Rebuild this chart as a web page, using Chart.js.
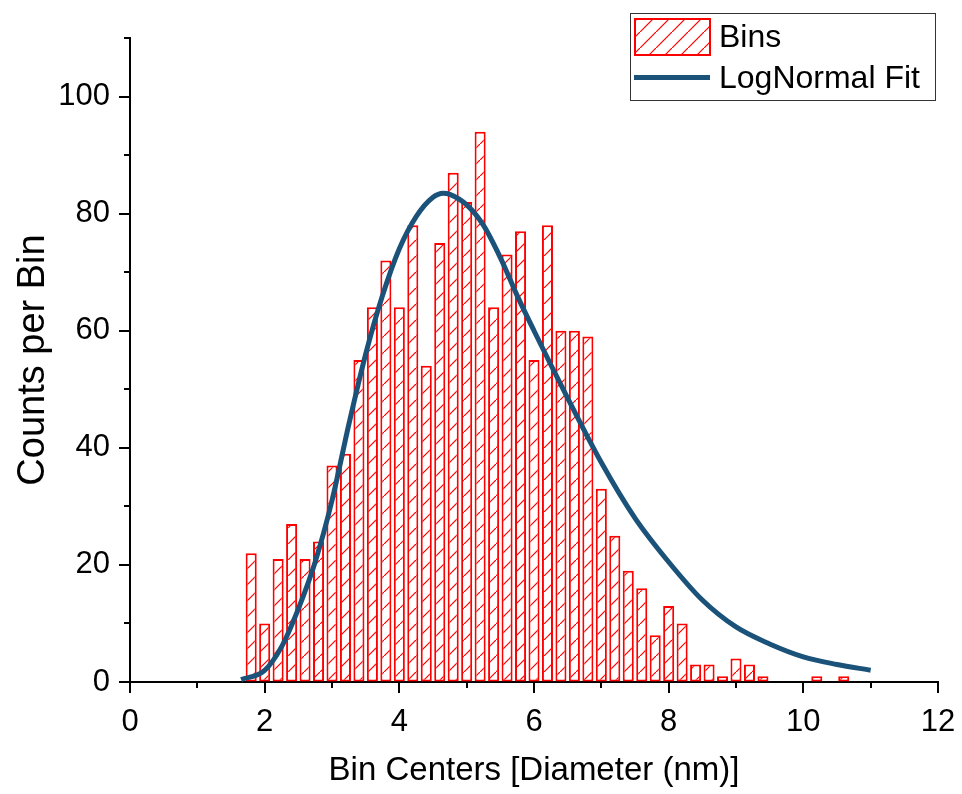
<!DOCTYPE html>
<html>
<head>
<meta charset="utf-8">
<script src="https://cdn.jsdelivr.net/npm/chart.js@4.4.1/dist/chart.umd.min.js"></script>
<style>
  body { margin: 0; background: #fff; }
  #wrap { width: 962px; height: 794px; }
</style>
</head>
<body>
<div id="wrap"><canvas id="sizeChart" width="962" height="794"></canvas></div>
<script>
// histogram bins (centres, nm) and counts
var binCenters = [1.8, 2.0, 2.2, 2.4, 2.6, 2.8, 3.0, 3.2, 3.4, 3.6, 3.8, 4.0, 4.2, 4.4, 4.6,
                  4.8, 5.0, 5.2, 5.4, 5.6, 5.8, 6.0, 6.2, 6.4, 6.6, 6.8, 7.0, 7.2, 7.4, 7.6,
                  7.8, 8.0, 8.2, 8.4, 8.6, 8.8, 9.0, 9.2, 9.4, 9.6, 9.8, 10.0, 10.2, 10.4, 10.6];
var binCounts  = [22, 10, 21, 27, 21, 24, 37, 39, 55, 64, 72, 64, 78, 54, 75,
                  87, 82, 94, 64, 73, 77, 55, 78, 60, 60, 59, 33, 25, 19, 16,
                  8, 13, 10, 3, 3, 1, 4, 3, 1, 0, 0, 0, 1, 0, 1];

// lognormal fit curve
var fitX = [1.65, 2.0, 2.25, 2.5, 2.75, 3.0, 3.25, 3.5, 3.75, 4.0, 4.25, 4.5, 4.65, 4.75, 5.0,
            5.25, 5.5, 5.75, 6.0, 6.5, 7.0, 7.5, 8.0, 8.5, 9.0, 9.5, 10.0, 10.5, 11.0];
var fitY = [0.4, 2, 6, 12.5, 20.5, 31, 44, 56, 66, 74, 79.5, 82.8, 83.5, 83.3, 81.5,
            78, 72.5, 66, 60, 48.5, 37.5, 28, 20.5, 14, 9.4, 6.5, 4.3, 3, 2];

// axis ticks
var xMajor = [0, 2, 4, 6, 8, 10, 12];
var xMinor = [1, 3, 5, 7, 9, 11];
var yMajor = [0, 20, 40, 60, 80, 100];
var yMinor = [10, 30, 50, 70, 90, 110];

var RED = '#ff0000';
var BLUE = '#1b5279';
var FONT = "'Liberation Sans', Arial, sans-serif";

Chart.defaults.font.family = FONT;
Chart.defaults.color = '#000';

// diagonal hatch for the bins
function makeHatch() {
    var c = document.createElement('canvas');
    c.width = 16; c.height = 16;
    var g = c.getContext('2d');
    g.fillStyle = '#fff';
    g.fillRect(0, 0, 16, 16);
    g.strokeStyle = RED;
    g.lineWidth = 1.2;
    g.beginPath();
    g.moveTo(-2, 18); g.lineTo(18, -2);
    g.stroke();
    return g.createPattern(c, 'repeat');
}
var hatch = makeHatch();

// all tick marks drawn here (major 11px, minor 6px, pointing out)
var tickMarks = {
    id: 'tickMarks',
    afterDraw: function(chart) {
        var ctx = chart.ctx, xs = chart.scales.x, ys = chart.scales.y;
        ctx.save();
        ctx.strokeStyle = '#000';
        ctx.lineWidth = 2;
        ctx.beginPath();
        function xt(v, len) {
            var px = Math.round(xs.getPixelForValue(v));
            ctx.moveTo(px, ys.bottom);
            ctx.lineTo(px, ys.bottom + len);
        }
        function yt(v, len) {
            var py = Math.round(ys.getPixelForValue(v));
            ctx.moveTo(xs.left, py);
            ctx.lineTo(xs.left - len, py);
        }
        xMajor.forEach(function(v) { xt(v, 11); });
        xMinor.forEach(function(v) { xt(v, 6); });
        yMajor.forEach(function(v) { yt(v, 11); });
        yMinor.forEach(function(v) { yt(v, 6); });
        ctx.stroke();
        ctx.restore();
    }
};

var boxLegend = {
    id: 'boxLegend',
    afterDraw: function(chart) {
        var ctx = chart.ctx;
        ctx.save();
        ctx.fillStyle = '#fff';
        ctx.fillRect(630, 13, 305, 87);
        ctx.strokeStyle = '#333';
        ctx.lineWidth = 1;
        ctx.strokeRect(630.5, 13.5, 305, 87);
        ctx.fillStyle = hatch;
        ctx.fillRect(635, 19, 75, 36);
        ctx.strokeStyle = RED;
        ctx.lineWidth = 2;
        ctx.strokeRect(635, 19, 75, 36);
        ctx.strokeStyle = BLUE;
        ctx.lineWidth = 5;
        ctx.beginPath();
        ctx.moveTo(634, 77.5);
        ctx.lineTo(710, 77.5);
        ctx.stroke();
        ctx.fillStyle = '#000';
        ctx.font = '32px ' + FONT;
        ctx.textBaseline = 'middle';
        ctx.fillText('Bins', 719, 38);
        ctx.fillText('LogNormal Fit', 719, 79);
        ctx.restore();
    }
};

var axisGrid = {
    display: true,
    offset: false,
    drawOnChartArea: false,
    drawTicks: true,
    tickLength: 10,
    tickWidth: 0,
    tickColor: 'rgba(0,0,0,0)'
};

new Chart(document.getElementById('sizeChart'), {
    type: 'bar',
    data: {
        datasets: [
            {
                label: 'Bins',
                data: binCenters.map(function(x, i) { return { x: x, y: binCounts[i] }; }),
                backgroundColor: hatch,
                borderColor: RED,
                borderWidth: 2,
                borderSkipped: false,
                barPercentage: 0.82,
                categoryPercentage: 1.0,
                order: 2
            },
            {
                type: 'line',
                label: 'LogNormal Fit',
                data: fitX.map(function(x, i) { return { x: x, y: fitY[i] }; }),
                borderColor: BLUE,
                borderWidth: 5,
                pointRadius: 0,
                fill: false,
                cubicInterpolationMode: 'monotone',
                order: 1
            }
        ]
    },
    options: {
        responsive: false,
        devicePixelRatio: 1,
        animation: false,
        layout: { padding: { left: 9, right: 24, top: 38, bottom: 3 } },
        plugins: {
            legend: { display: false },
            tooltip: { enabled: false }
        },
        scales: {
            x: {
                type: 'linear',
                min: 0,
                max: 12,
                offset: false,
                grid: axisGrid,
                border: { display: true, color: '#000', width: 2 },
                afterBuildTicks: function(scale) {
                    scale.ticks = xMajor.map(function(v) { return { value: v }; });
                },
                afterFit: function(scale) {
                    scale.height = 109;
                    scale.paddingLeft = 0;
                    scale.paddingRight = 0;
                },
                ticks: { font: { size: 31 }, padding: 12, maxRotation: 0 },
                title: {
                    display: true,
                    text: 'Bin Centers [Diameter (nm)]',
                    font: { size: 33 },
                    padding: { top: 11, bottom: 0 }
                }
            },
            y: {
                min: 0,
                max: 110,
                grid: axisGrid,
                border: { display: true, color: '#000', width: 2 },
                afterBuildTicks: function(scale) {
                    scale.ticks = yMajor.map(function(v) { return { value: v }; });
                },
                afterFit: function(scale) {
                    scale.width = 121;
                    scale.paddingTop = 0;
                    scale.paddingBottom = 0;
                },
                ticks: { font: { size: 31 }, padding: 10 },
                title: {
                    display: true,
                    text: 'Counts per Bin',
                    font: { size: 38 },
                    padding: { top: 2, bottom: 3 }
                }
            }
        }
    },
    plugins: [tickMarks, boxLegend]
});
</script>
</body>
</html>
